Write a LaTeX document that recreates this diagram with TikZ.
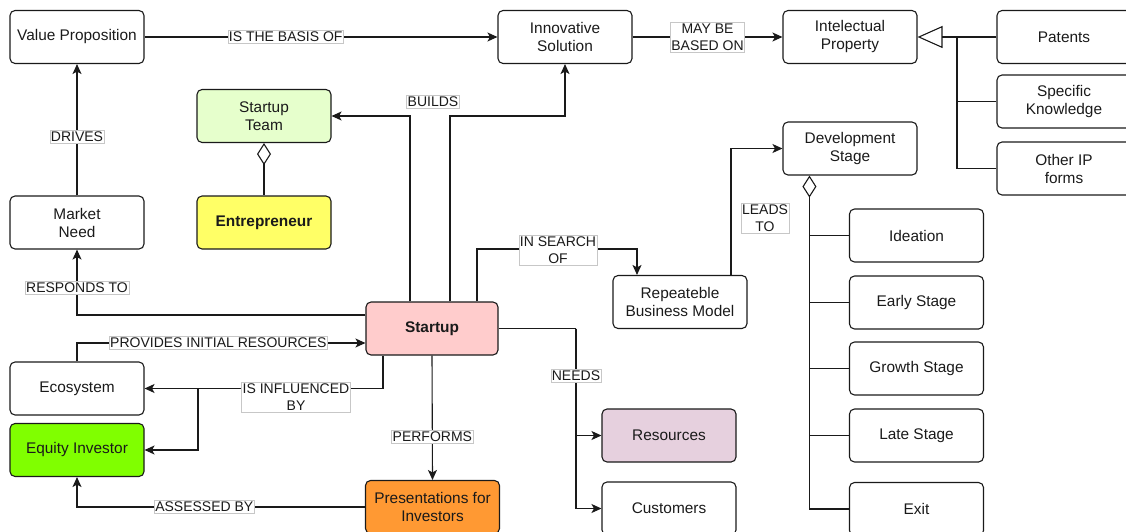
\documentclass[tikz,border=0pt]{standalone}
\usepackage{fontspec}
\setmainfont{Liberation Sans}
\usetikzlibrary{arrows.meta,calc}
\definecolor{ink}{HTML}{1A1A1A}
\definecolor{teamfill}{HTML}{E6FFCC}
\definecolor{entfill}{HTML}{FFFF66}
\definecolor{startfill}{HTML}{FFCCCC}
\definecolor{eqfill}{HTML}{80FF00}
\definecolor{presfill}{HTML}{FF9933}
\definecolor{resfill}{HTML}{E6D0DE}
\begin{document}
\begin{tikzpicture}[x=1pt,y=-1pt,
  box/.style={draw=ink, line width=1.1pt, rounded corners=5pt, minimum width=134pt,
    minimum height=53pt, inner sep=0pt, align=center, text=ink,
    font=\fontsize{15.4}{18}\selectfont},
  lbl/.style={fill=white, draw=black!22, line width=0.5pt, inner xsep=1pt, inner ysep=1.5pt,
    align=center, text=ink, font=\fontsize{14}{17}\selectfont},
  link/.style={draw=ink, line width=1.1pt},
  arr/.style={link, -{Stealth[length=10pt,width=9pt,inset=2.5pt]}},
  agg/.style={link, {Diamond[open,length=22pt,width=14pt]}-},
]
\useasboundingbox (0,0) rectangle (1126,532);

% concepts
\node[box] (vp)   at (77,37)     {Value Proposition};
\node[box] (is)   at (565,37)    {Innovative\\Solution};
\node[box] (ip)   at (850,37)    {Intelectual\\Property};
\node[box] (pat)  at (1064,37)   {Patents};
\node[box] (sk)   at (1064,101.5){Specific\\Knowledge};
\node[box] (oip)  at (1064,168.5){Other IP\\forms};
\node[box] (dev)  at (850,148.5) {Development\\Stage};
\node[box, fill=teamfill] (team) at (264,116) {Startup\\Team};
\node[box, fill=entfill, font=\fontsize{15.4}{18}\selectfont\bfseries] (ent) at (264,222.5) {Entrepreneur};
\node[box] (mn)   at (77,222.5)  {Market\\Need};
\node[box, fill=startfill, minimum width=132pt, font=\fontsize{15.4}{18}\selectfont\bfseries] (st) at (432,328.5) {Startup};
\node[box] (rbm)  at (680,302)   {Repeateble\\Business Model};
\node[box] (eco)  at (77,388.5)  {Ecosystem};
\node[box, fill=eqfill] (eq) at (77,450) {Equity Investor};
\node[box, fill=presfill] (pres) at (432.5,507) {Presentations for\\Investors};
\node[box, fill=resfill] (res) at (669,435.5) {Resources};
\node[box] (cus)  at (669,508.5) {Customers};
\node[box] (ide)  at (916.5,235.5) {Ideation};
\node[box] (early) at (916.5,302.5) {Early Stage};
\node[box] (grow) at (916.5,368.5) {Growth Stage};
\node[box] (late) at (916.5,435.5) {Late Stage};
\node[box] (exit) at (916.5,509)   {Exit};

% top row relations
\draw[arr] (vp.east) -- node[lbl, pos=0.40] {IS THE BASIS OF} (is.west);
\draw[arr] (is.east) -- node[lbl, pos=0.50] {MAY BE\\BASED ON} (ip.west);

% kinds of intellectual property
\coordinate (gj) at (957,37);
\draw[link, -{Triangle[open,length=25pt,width=22pt]}] (pat.west) -- (ip.east);
\draw[link] (sk.west) -| (gj);
\draw[link] (oip.west) -| (gj);

% development stages
\coordinate (dd) at ($(dev.south west)+(27pt,0)$);
\draw[agg] (dd) |- (exit.west);
\draw[link] (ide.west) -- (ide.west -| dd);
\draw[link] (early.west) -- (early.west -| dd);
\draw[link] (grow.west) -- (grow.west -| dd);
\draw[link] (late.west) -- (late.west -| dd);

% team
\draw[agg] (team.south) -- (ent.north);

% market need
\draw[arr] (mn.north) -- node[lbl, pos=0.447] {DRIVES} (vp.south);
\draw[arr] ([yshift=13.5pt]st.west) -| node[lbl, pos=0.705] {RESPONDS TO} (mn.south);

% builds
\draw[arr] ([xshift=-22pt]st.north) |- (team.east);
\draw[arr] ([xshift=18pt]st.north) -- ([xshift=18pt]st.north |- team.east) -| (is.south);
\node[lbl] (buildslbl) at (433,102) {BUILDS};

% ecosystem and investors
\draw[arr] (eco.north) |- node[lbl, pos=0.745] {PROVIDES INITIAL RESOURCES} ([yshift=-14.5pt]st.west);
\coordinate (infj) at (198,388.5);
\draw[arr] ([xshift=-49pt]st.south) |- (eco.east);
\draw[arr] (infj) |- (eq.east);
\node[lbl] (inflbl) at (296,397.5) {IS INFLUENCED\\BY};
\draw[arr] (st.south) -- node[lbl, pos=0.656] {PERFORMS} (pres.north);
\draw[arr] (pres.west) -| node[lbl, pos=0.279] {ASSESSED BY} (eq.south);

% business model
\draw[arr] ([xshift=45pt]st.north) |- (558,249) -| ([xshift=-43pt]rbm.north);
\node[lbl] (searchlbl) at (558,250) {IN SEARCH\\OF};
\draw[arr] ([xshift=51pt]rbm.north) |- (dev.west);
\node[lbl] (leadslbl) at (765,218) {LEADS\\TO};

% needs
\coordinate (nj) at (576,328.5);
\draw[link] (st.east) -- (nj);
\draw[arr] (nj) |- (res.west);
\draw[arr] (nj) |- (cus.west);
\node[lbl] (needslbl) at (576,376) {NEEDS};
\end{tikzpicture}
\end{document}
